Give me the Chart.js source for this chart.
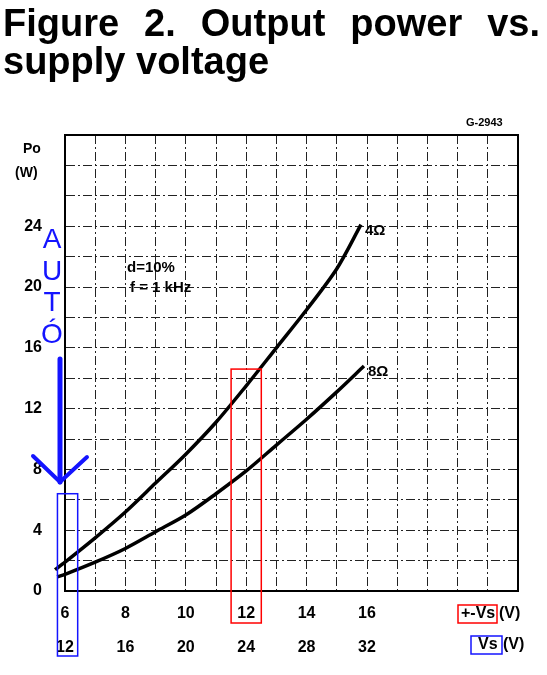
<!DOCTYPE html>
<html>
<head>
<meta charset="utf-8">
<script src="https://cdn.jsdelivr.net/npm/chart.js@4"></script>
<style>
    html, body { margin: 0; padding: 0; background: #fff; }
    #wrap { position: relative; width: 547px; height: 675px; }
    #title {
        position: absolute; left: 3px; top: 4px; width: 537px;
        font: bold 38px "Liberation Sans", Arial, sans-serif; line-height: 38px; color: #000;
    }
    #title .l1 { text-align: justify; text-align-last: justify; }
</style>
</head>
<body>
<div id="wrap">
    <canvas id="powerChart" width="547" height="675"></canvas>
    <div id="title"><div class="l1">Figure 2. Output power vs.</div><div>supply voltage</div></div>
</div>
<script>
// supply voltage (+-Vs, V) and output power (W)
const volts4 = [5.67, 6, 7, 8, 9, 10, 11, 12, 13, 14, 15, 15.8];
const power4 = [1.4, 1.9, 3.5, 5.2, 7.1, 9.0, 11.1, 13.5, 16.0, 18.5, 21.2, 24.1];
const volts8 = [5.74, 6, 7, 8, 9, 10, 11, 12, 13, 14, 15, 15.9];
const power8 = [0.93, 1.1, 1.9, 2.8, 3.9, 5.0, 6.4, 7.9, 9.6, 11.3, 13.1, 14.8];
const curveNames = ['4Ω', '8Ω'];
const yLabels = [0, 4, 8, 12, 16, 20, 24];
const xLabels = [6, 8, 10, 12, 14, 16];      // +-Vs
const xLabelsSingle = [12, 16, 20, 24, 28, 32]; // Vs

const FONT = '"Liberation Sans", Arial, sans-serif';
const BLUE = '#1414ff';

function toPoints(xs, ys) {
    return xs.map((x, i) => ({ x: x, y: ys[i] }));
}

function curve(label, xs, ys) {
    return {
        label: label,
        data: toPoints(xs, ys),
        borderColor: '#000',
        backgroundColor: '#000',
        borderWidth: 3.5,
        pointRadius: 0,
        tension: 0.3,
        fill: false,
        clip: false
    };
}

// Frame, notes and the hand-drawn markings
const decorations = {
    id: 'decorations',
    afterDraw(chart) {
        const ctx = chart.ctx;
        const area = chart.chartArea;
        const xs = chart.scales.x, ys = chart.scales.y;
        ctx.save();

        // frame
        ctx.setLineDash([]);
        ctx.strokeStyle = '#000';
        ctx.lineWidth = 2;
        ctx.strokeRect(area.left, area.top, area.right - area.left, area.bottom - area.top);

        ctx.fillStyle = '#000';
        ctx.textBaseline = 'middle';
        ctx.textAlign = 'left';
        ctx.font = 'bold 14px ' + FONT;
        ctx.fillText('Po', 23, 149);
        ctx.fillText('(W)', 15, 173);
        ctx.font = 'bold 11px ' + FONT;
        ctx.fillText('G-2943', 466, 123);
        ctx.font = 'bold 15px ' + FONT;
        ctx.fillText('d=10%', 127, 268);
        ctx.fillText('f = 1 kHz', 130, 288);

        // curve names at the end of each curve
        ctx.font = 'bold 15px ' + FONT;
        const ends = [[volts4, power4], [volts8, power8]];
        ends.forEach((e, i) => {
            const n = e[0].length - 1;
            ctx.fillText(curveNames[i], xs.getPixelForValue(e[0][n]) + 4, ys.getPixelForValue(e[1][n]) + 6);
        });

        // axis unit labels
        ctx.font = 'bold 16px ' + FONT;
        ctx.fillText('+-Vs', 461, 614);
        ctx.fillText('(V)', 499, 614);
        ctx.fillText('Vs', 478, 645);
        ctx.fillText('(V)', 503, 645);

        ctx.lineWidth = 1.5;
        ctx.strokeStyle = '#ff0000';
        ctx.strokeRect(458, 605, 39, 18);
        ctx.strokeStyle = BLUE;
        ctx.strokeRect(471, 636, 31, 18);

        // red box round +-Vs = 12
        ctx.strokeStyle = '#ff0000';
        const rx0 = xs.getPixelForValue(11.5), rx1 = xs.getPixelForValue(12.5);
        const ry0 = ys.getPixelForValue(14.6);
        ctx.strokeRect(rx0, ry0, rx1 - rx0, area.bottom + 32 - ry0);

        // blue box round +-Vs = 6
        ctx.strokeStyle = BLUE;
        const bx0 = xs.getPixelForValue(5.75), bx1 = xs.getPixelForValue(6.42);
        const by0 = ys.getPixelForValue(6.4);
        ctx.strokeRect(bx0, by0, bx1 - bx0, area.bottom + 65 - by0);

        // "AUTÓ" written downwards
        ctx.fillStyle = BLUE;
        ctx.font = '28px ' + FONT;
        ctx.textAlign = 'center';
        ctx.textBaseline = 'alphabetic';
        ['A', 'U', 'T', 'Ó'].forEach((ch, i) => {
            ctx.fillText(ch, 52, 248 + i * 31.5);
        });

        // arrow
        ctx.strokeStyle = BLUE;
        ctx.lineCap = 'round';
        ctx.lineWidth = 5;
        ctx.beginPath();
        ctx.moveTo(60, 359);
        ctx.lineTo(60, 482);
        ctx.stroke();
        ctx.lineWidth = 4;
        ctx.beginPath();
        ctx.moveTo(33, 456);
        ctx.lineTo(60, 482);
        ctx.lineTo(87, 457);
        ctx.stroke();

        ctx.restore();
    }
};

const ctx = document.getElementById('powerChart').getContext('2d');
new Chart(ctx, {
    type: 'line',
    data: {
        datasets: [
            curve(curveNames[0], volts4, power4),
            curve(curveNames[1], volts8, power8)
        ]
    },
    options: {
        responsive: false,
        animation: false,
        layout: { padding: { left: 0, top: 135, right: 29, bottom: 0 } },
        plugins: {
            legend: { display: false },
            tooltip: { enabled: false }
        },
        scales: {
            x: {
                type: 'linear',
                min: 6,
                max: 21,
                afterFit(scale) { scale.height = 84; },
                border: { display: true, color: '#000', width: 2, dash: [9, 3, 2, 3] },
                grid: { color: '#222', lineWidth: 1, drawTicks: false },
                ticks: {
                    stepSize: 1,
                    padding: 6,
                    maxRotation: 0,
                    autoSkip: false,
                    color: '#000',
                    font: { family: FONT, size: 16, weight: 'bold', lineHeight: 2.12 },
                    callback: function (value) {
                        const i = xLabels.indexOf(value);
                        return i >= 0 ? [String(xLabels[i]), String(xLabelsSingle[i])] : '';
                    }
                }
            },
            y: {
                min: 0,
                max: 30,
                afterFit(scale) { scale.width = 65; },
                border: { display: true, color: '#000', width: 2, dash: [9, 3, 2, 3] },
                grid: { color: '#222', lineWidth: 1, drawTicks: false },
                ticks: {
                    stepSize: 2,
                    padding: 23,
                    color: '#000',
                    font: { family: FONT, size: 16, weight: 'bold' },
                    callback: function (value) {
                        return yLabels.includes(value) ? value : '';
                    }
                }
            }
        }
    },
    plugins: [decorations]
});
</script>
</body>
</html>
